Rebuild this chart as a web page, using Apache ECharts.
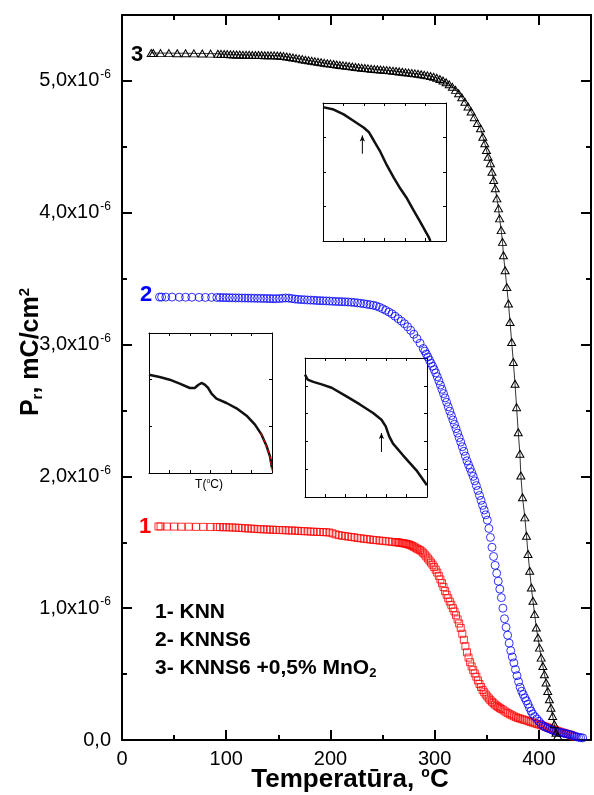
<!DOCTYPE html>
<html>
<head>
<meta charset="utf-8">
<script src="https://cdn.jsdelivr.net/npm/echarts@6/dist/echarts.min.js"></script>
<style>
  html, body { margin: 0; padding: 0; background: #fff; }
  #chart { width: 594px; height: 795px; }
</style>
</head>
<body>
<div id="chart"></div>
<script>
// tick labels of the main plot
var tempTicks = [0, 100, 200, 300, 400];
var prTicks = [0, 1, 2, 3, 4, 5];   // units of 1e-6 mC/cm2

// 1 - KNN  [T (C), Pr (x1e-6)]
var knnData = [
  [35, 1.620], [37, 1.620], [43, 1.619], [50, 1.619], [57, 1.618], [64, 1.618], [71, 1.617], [78, 1.617], [85, 1.616], [91, 1.616],
  [94, 1.615], [97, 1.614], [100, 1.614], [103, 1.613], [106, 1.612], [109, 1.611], [112, 1.610], [115, 1.608], [118, 1.606],
  [121, 1.605], [124, 1.604], [127, 1.602], [130, 1.600], [133, 1.599], [136, 1.598], [139, 1.597], [142, 1.596], [145, 1.595],
  [148, 1.594], [151, 1.593], [154, 1.592], [157, 1.591], [160, 1.590], [163, 1.589], [166, 1.588], [169, 1.587], [172, 1.585],
  [175, 1.584], [178, 1.583], [181, 1.581], [184, 1.580], [187, 1.579], [190, 1.578], [193, 1.577], [196, 1.576], [199, 1.574],
  [202, 1.568], [205, 1.560], [208, 1.554], [211, 1.550], [214, 1.547], [217, 1.543], [220, 1.540], [223, 1.537], [226, 1.533],
  [229, 1.530], [232, 1.527], [235, 1.524], [238, 1.521], [241, 1.518], [244, 1.516], [247, 1.513], [250, 1.511], [253, 1.508],
  [256, 1.506], [259, 1.503], [262, 1.501], [263.5, 1.500], [265, 1.499], [266.5, 1.497], [268, 1.495], [269.5, 1.493],
  [271, 1.491], [272.5, 1.489], [274, 1.486], [275.5, 1.482], [277, 1.478], [278.5, 1.472], [280, 1.466], [281.5, 1.459],
  [283, 1.452], [284.5, 1.446], [286, 1.440], [287.5, 1.431], [289, 1.420], [290.5, 1.407], [292, 1.392], [293.5, 1.377],
  [295, 1.362], [296.5, 1.346], [298, 1.330], [299.5, 1.312], [301, 1.292], [302.5, 1.270], [304, 1.245], [305.5, 1.218],
  [307, 1.190], [308.5, 1.160], [310, 1.130], [311.5, 1.102], [313, 1.075], [314.5, 1.050], [316, 1.025], [317.5, 1.000],
  [319, 0.975], [320.5, 0.946], [322, 0.915], [323.5, 0.884], [325, 0.850], [326.5, 0.806], [328, 0.760], [329.5, 0.712],
  [331, 0.665], [332.5, 0.625], [334, 0.590], [335.5, 0.558], [337, 0.530], [338.5, 0.505], [340, 0.480], [341.5, 0.452],
  [343, 0.425], [344.5, 0.402], [346, 0.380], [347.5, 0.362], [349, 0.345], [350.5, 0.330], [352, 0.315], [353.5, 0.302],
  [355, 0.290], [356.5, 0.279], [358, 0.268], [359.5, 0.259], [361, 0.250], [362.5, 0.242], [364, 0.235], [366, 0.225],
  [368, 0.215], [370, 0.205], [372, 0.196], [374, 0.188], [376, 0.180], [378, 0.173], [380, 0.167], [382, 0.162], [384, 0.157],
  [386, 0.153], [388, 0.148], [390, 0.143], [392, 0.137], [394, 0.132], [396, 0.127], [398, 0.122], [400, 0.117], [402, 0.112],
  [404, 0.107], [406, 0.102], [408, 0.097], [410, 0.091], [412, 0.085], [414, 0.080], [416, 0.074], [418, 0.068], [420, 0.063],
  [422, 0.058], [424, 0.054], [426, 0.049], [428, 0.045], [430, 0.040], [432, 0.033], [434, 0.026]
];

// 2 - KNNS6
var knns6Data = [
  [36, 3.360], [38, 3.360], [42, 3.360], [48, 3.360], [55, 3.359], [61, 3.359], [67, 3.359], [74, 3.358], [80, 3.358], [86, 3.358], [91, 3.357],
  [94, 3.357], [97, 3.356], [100, 3.356], [103, 3.355], [106, 3.355], [109, 3.354], [112, 3.354], [115, 3.353], [118, 3.353],
  [121, 3.352], [124, 3.352], [127, 3.351], [130, 3.351], [133, 3.350], [136, 3.350], [139, 3.349], [142, 3.349], [145, 3.348],
  [148, 3.348], [151, 3.349], [154, 3.351], [157, 3.353], [160, 3.352], [163, 3.349], [166, 3.345], [169, 3.343], [172, 3.341],
  [175, 3.340], [178, 3.338], [181, 3.337], [184, 3.336], [187, 3.334], [190, 3.333], [193, 3.332], [196, 3.331], [199, 3.330],
  [202, 3.328], [205, 3.327], [208, 3.326], [211, 3.325], [214, 3.324], [217, 3.323], [220, 3.321], [223, 3.319], [226, 3.316],
  [229, 3.313], [232, 3.310], [235, 3.306], [238, 3.302], [241, 3.298], [244, 3.292], [247, 3.283], [250, 3.272], [253, 3.260],
  [256, 3.247], [259, 3.233], [262, 3.215], [265, 3.196], [268, 3.178], [271, 3.158], [274, 3.135], [277, 3.108], [280, 3.078],
  [283, 3.045], [286, 3.010], [289, 2.970], [290.5, 2.950], [292, 2.928], [293.5, 2.905], [295, 2.882], [296.5, 2.858],
  [298, 2.835], [299.5, 2.810], [301, 2.785], [302.5, 2.756], [304, 2.725], [305.5, 2.693], [307, 2.660], [308.5, 2.628],
  [310, 2.595], [311.5, 2.562], [313, 2.528], [314.5, 2.495], [316, 2.462], [317.5, 2.428], [319, 2.395], [320.5, 2.362],
  [322, 2.328], [323.5, 2.294], [325, 2.260], [326.5, 2.225], [328, 2.190], [329.5, 2.154], [331, 2.118], [332.5, 2.088],
  [334, 2.060], [335.5, 2.030], [337, 2.000], [338.5, 1.966], [340, 1.930], [341.5, 1.893], [343, 1.855], [344.5, 1.818],
  [346, 1.780], [347.5, 1.745], [349, 1.708], [350.5, 1.668], [352, 1.605], [353.5, 1.537], [355, 1.462], [356.5, 1.392],
  [358, 1.325], [359.5, 1.265], [361, 1.205], [362.5, 1.145], [364, 1.080], [365.5, 1.000], [367, 0.920], [368.5, 0.855],
  [370, 0.795], [371.5, 0.735], [373, 0.678], [374.5, 0.630], [376, 0.585], [377.5, 0.535], [379, 0.488], [380.5, 0.442],
  [382, 0.400], [383.5, 0.370], [385, 0.345], [386.5, 0.320], [388, 0.298], [389.5, 0.272], [391, 0.245], [392.5, 0.220],
  [394, 0.198], [396, 0.178], [398, 0.160], [400, 0.142], [402, 0.122], [404, 0.108], [406, 0.098], [408, 0.091], [410, 0.085],
  [412, 0.078], [414, 0.071], [416, 0.065], [418, 0.062], [420, 0.058], [422, 0.055], [424, 0.052], [426, 0.048], [428, 0.044],
  [430, 0.040], [432, 0.035], [434, 0.030], [436, 0.025], [438, 0.021], [440, 0.018], [442, 0.016]
];

// 3 - KNNS6 + 0,5% MnO2
var mnoData = [
  [28, 5.212], [30, 5.212], [37, 5.211], [45, 5.211], [53, 5.210], [61, 5.210], [69, 5.209], [77, 5.208], [85, 5.207], [92, 5.206],
  [95, 5.205], [98, 5.204], [101, 5.203], [104, 5.202], [107, 5.201], [110, 5.200], [113, 5.200], [116, 5.199], [119, 5.198],
  [122, 5.198], [125, 5.197], [128, 5.197], [131, 5.196], [134, 5.196], [137, 5.195], [140, 5.195], [143, 5.194], [146, 5.194],
  [149, 5.193], [152, 5.191], [155, 5.188], [158, 5.185], [161, 5.181], [164, 5.177], [167, 5.173], [170, 5.169], [173, 5.165],
  [176, 5.161], [179, 5.157], [182, 5.153], [185, 5.149], [188, 5.145], [191, 5.141], [194, 5.137], [197, 5.134], [200, 5.131],
  [203, 5.128], [206, 5.125], [209, 5.121], [212, 5.118], [215, 5.115], [218, 5.112], [221, 5.109], [224, 5.106], [227, 5.103],
  [230, 5.100], [233, 5.098], [236, 5.095], [239, 5.092], [242, 5.090], [245, 5.088], [248, 5.086], [251, 5.084], [254, 5.082],
  [257, 5.080], [260, 5.077], [263, 5.075], [266, 5.072], [269, 5.069], [272, 5.066], [275, 5.063], [278, 5.060], [281, 5.057],
  [284, 5.054], [287, 5.050], [290, 5.046], [293, 5.042], [296, 5.037], [299, 5.031], [302, 5.024], [305, 5.015], [308, 5.003],
  [311, 4.990], [314, 4.974], [317, 4.955], [320, 4.932], [323, 4.906], [326, 4.876], [329, 4.842], [332, 4.806], [335, 4.768],
  [338, 4.725], [341, 4.680], [344.0, 4.641], [346.2, 4.577], [348.1, 4.527], [349.7, 4.476], [351.3, 4.425], [353.5, 4.375],
  [355.0, 4.311], [356.6, 4.248], [358.2, 4.185], [359.7, 4.109], [361.3, 4.033], [362.3, 3.957], [363.8, 3.868], [365.1, 3.779],
  [366.0, 3.678], [367.6, 3.564], [369.2, 3.437], [370.8, 3.311], [372.3, 3.171], [373.9, 3.019], [375.5, 2.867], [377.1, 2.703],
  [378.6, 2.525], [380.2, 2.335], [381.8, 2.171], [382.7, 2.006], [384.3, 1.841], [386.5, 1.689], [388.1, 1.550], [389.6, 1.411],
  [391.2, 1.284], [392.8, 1.157], [394.3, 1.056], [395.9, 0.955], [397.5, 0.853], [399.1, 0.777], [400.6, 0.701], [402.2, 0.625],
  [403.8, 0.562], [405.3, 0.499], [406.9, 0.436], [408.5, 0.372], [410.1, 0.309], [411.6, 0.245], [413.2, 0.182], [414.8, 0.119],
  [416.4, 0.055], [418.0, 0.030]
];

// insets (arbitrary units, no labels in the source)
var insetMno = [
  [0, 3.88], [0.52, 3.81], [1.01, 3.67], [1.50, 3.48], [1.98, 3.29], [2.23, 3.16], [2.47, 2.92], [2.80, 2.58],
  [3.12, 2.19], [3.45, 1.84], [3.77, 1.52], [4.10, 1.23], [4.42, 0.89], [4.75, 0.55], [5.15, 0.12], [5.24, 0]
];
var insetMnoArrow = [[1.92, 2.53], [1.92, 3.06]];

var insetKnn = [
  [0, 2.107], [0.52, 2.057], [1.01, 2.0], [1.50, 1.914], [1.99, 1.821], [2.23, 1.821], [2.40, 1.886], [2.56, 1.929],
  [2.72, 1.893], [2.89, 1.821], [3.05, 1.70], [3.29, 1.593], [3.78, 1.50], [4.27, 1.386], [4.76, 1.229], [5.17, 1.036],
  [5.49, 0.821], [5.74, 0.571], [5.90, 0.357], [6.0, 0.107]
];
var insetKnnFit = [[5.45, 0.86], [5.74, 0.571], [5.90, 0.357], [6.0, 0.05]];

var insetKnns6 = [
  [0, 4.40], [0.13, 4.22], [0.41, 4.14], [0.82, 4.05], [1.31, 3.93], [2.04, 3.62], [2.70, 3.33], [3.35, 3.02],
  [3.76, 2.78], [3.97, 2.54], [4.14, 2.18], [4.33, 1.92], [4.82, 1.50], [5.48, 0.96], [6.0, 0.42]
];
var insetKnns6Arrow = [[3.76, 1.62], [3.76, 2.30]];

var FONT = '"Liberation Sans", Arial, sans-serif';

var chart = echarts.init(document.getElementById('chart'));

function axisBase(gridIndex, position, min, max, interval, tickLen, width, showLine) {
  return {
    type: 'value', gridIndex: gridIndex, position: position,
    min: min, max: max, interval: interval,
    axisLine: { show: showLine, onZero: false, lineStyle: { color: '#000', width: width } },
    axisTick: { show: true, inside: true, length: tickLen, lineStyle: { color: '#000', width: width } },
    axisLabel: { show: false },
    splitLine: { show: false }
  };
}

var xAxes = [], yAxes = [];

// main plot: long ticks every 100 / 1e-6, short ticks every 50 / 0.5e-6
var xMain = axisBase(0, 'bottom', 0, 450, 100, 10, 2, true);
xMain.axisLabel = {
  show: true, margin: 9, color: '#000', fontSize: 20, fontFamily: FONT,
  formatter: function (v) { return tempTicks.indexOf(v) >= 0 ? String(v) : ''; }
};
xAxes.push(xMain);
xAxes.push(axisBase(0, 'bottom', 0, 450, 50, 5, 2, false));
xAxes.push(axisBase(0, 'top', 0, 450, 100, 10, 2, true));
xAxes.push(axisBase(0, 'top', 0, 450, 50, 5, 2, false));

var yMain = axisBase(0, 'left', 0, 5.5, 1, 10, 2, true);
yMain.axisLabel = {
  show: true, margin: 11, color: '#000', fontSize: 20, fontFamily: FONT,
  formatter: function (v) {
    if (prTicks.indexOf(v) < 0) return '';
    if (v === 0) return '{a|0,0}';
    return '{a|' + v.toFixed(1).replace('.', ',') + 'x10}{s|-6}';
  },
  rich: {
    a: { fontSize: 20, fontFamily: FONT, color: '#000', lineHeight: 24 },
    s: { fontSize: 12, fontFamily: FONT, color: '#000', verticalAlign: 'top', padding: [0, 0, 0, 1] }
  }
};
yAxes.push(yMain);
yAxes.push(axisBase(0, 'left', 0, 5.5, 0.5, 5, 2, false));
yAxes.push(axisBase(0, 'right', 0, 5.5, 1, 10, 2, true));
yAxes.push(axisBase(0, 'right', 0, 5.5, 0.5, 5, 2, false));

// insets: grid 1 (MnO2), 2 (KNN), 3 (KNNS6)
var insetY = { 1: 4, 2: 3, 3: 5 };
[1, 2, 3].forEach(function (g) {
  xAxes.push(axisBase(g, 'bottom', 0, 6, 1, 3, 1, true));
  xAxes.push(axisBase(g, 'top', 0, 6, 1, 3, 1, true));
  yAxes.push(axisBase(g, 'left', 0, insetY[g], 1, 3, 1, true));
  yAxes.push(axisBase(g, 'right', 0, insetY[g], 1, 3, 1, true));
});

function insetLine(data, xi, yi, color, width, dashed) {
  return {
    type: 'line', data: data, xAxisIndex: xi, yAxisIndex: yi,
    symbol: 'none', silent: true, z: 5,
    lineStyle: { color: color, width: width, type: dashed ? 'dashed' : 'solid' }
  };
}

function arrow(data, xi, yi) {
  return {
    type: 'line', xAxisIndex: xi, yAxisIndex: yi, silent: true, z: 5,
    data: [{ value: data[0], symbol: 'none' }, { value: data[1], symbol: 'arrow', symbolSize: [4, 6] }],
    itemStyle: { color: '#000' },
    lineStyle: { color: '#000', width: 1 }
  };
}

var option = {
  animation: false,
  backgroundColor: '#fff',
  grid: [
    { left: 122, top: 15, width: 477, height: 725 },
    { left: 323, top: 103, width: 123, height: 138, show: true, backgroundColor: '#fff', borderWidth: 0 },
    { left: 149, top: 333, width: 123, height: 140, show: true, backgroundColor: '#fff', borderWidth: 0 },
    { left: 305, top: 358, width: 122, height: 139, show: true, backgroundColor: '#fff', borderWidth: 0 }
  ],
  xAxis: xAxes,
  yAxis: yAxes,
  series: [
    {
      name: '1- KNN', type: 'scatter', data: knnData, xAxisIndex: 0, yAxisIndex: 0,
      symbol: 'rect', symbolSize: 7, silent: true,
      itemStyle: { color: 'transparent', borderColor: '#ff0000', borderWidth: 1 }
    },
    {
      name: '2- KNNS6', type: 'scatter', data: knns6Data, xAxisIndex: 0, yAxisIndex: 0,
      symbol: 'circle', symbolSize: 8, silent: true,
      itemStyle: { color: 'transparent', borderColor: '#0000ff', borderWidth: 1 }
    },
    {
      name: '3- KNNS6 +0,5% MnO2', type: 'line', data: mnoData, xAxisIndex: 0, yAxisIndex: 0,
      symbol: 'triangle', symbolSize: [8, 7], showSymbol: true, showAllSymbol: true, silent: true,
      itemStyle: { color: 'transparent', borderColor: '#000', borderWidth: 1 },
      lineStyle: { color: '#000', width: 0.8 }
    },
    insetLine(insetMno, 4, 4, '#111', 2.5),
    arrow(insetMnoArrow, 4, 4),
    insetLine(insetKnn, 6, 6, '#111', 2.5),
    insetLine(insetKnnFit, 6, 6, '#ff0000', 1, true),
    insetLine(insetKnns6, 8, 8, '#111', 2.5),
    arrow(insetKnns6Arrow, 8, 8)
  ],
  graphic: [
    { type: 'text', x: 137, y: 55, style: { text: '3', fill: '#000', font: 'bold 22px ' + FONT, textAlign: 'center', textVerticalAlign: 'middle' } },
    { type: 'text', x: 146, y: 295, style: { text: '2', fill: '#0000ff', font: 'bold 22px ' + FONT, textAlign: 'center', textVerticalAlign: 'middle' } },
    { type: 'text', x: 145, y: 527, style: { text: '1', fill: '#ff0000', font: 'bold 22px ' + FONT, textAlign: 'center', textVerticalAlign: 'middle' } },
    { type: 'text', x: 155, y: 612, style: { text: '1- KNN', fill: '#000', font: 'bold 21px ' + FONT, textVerticalAlign: 'middle' } },
    { type: 'text', x: 155, y: 640, style: { text: '2- KNNS6', fill: '#000', font: 'bold 21px ' + FONT, textVerticalAlign: 'middle' } },
    {
      type: 'text', x: 155, y: 668,
      style: {
        text: '{a|3- KNNS6 +0,5% MnO}{b|2}', fill: '#000', textVerticalAlign: 'middle',
        rich: {
          a: { fontSize: 21, fontWeight: 'bold', fontFamily: FONT, lineHeight: 24 },
          b: { fontSize: 13, fontWeight: 'bold', fontFamily: FONT, verticalAlign: 'bottom', padding: [10, 0, 0, 0] }
        }
      }
    },
    {
      type: 'text', x: 209, y: 485,
      style: {
        text: '{a|T(}{b|o}{a|C)}', fill: '#000', textAlign: 'center', textVerticalAlign: 'middle',
        rich: {
          a: { fontSize: 12, fontFamily: FONT, lineHeight: 14 },
          b: { fontSize: 7, fontFamily: FONT, verticalAlign: 'top' }
        }
      }
    },
    {
      type: 'text', x: 350, y: 780,
      style: {
        text: '{a|Temperatūra, }{b|o}{a|C}', fill: '#000', textAlign: 'center', textVerticalAlign: 'middle',
        rich: {
          a: { fontSize: 26, fontWeight: 'bold', fontFamily: FONT, lineHeight: 28 },
          b: { fontSize: 14, fontWeight: 'bold', fontFamily: FONT, verticalAlign: 'top' }
        }
      }
    },
    {
      type: 'text', x: 31, y: 352, rotation: Math.PI / 2,
      style: {
        text: '{a|P}{c|r}{a|, mC/cm}{b|2}', fill: '#000', textAlign: 'center', textVerticalAlign: 'middle',
        rich: {
          a: { fontSize: 25, fontWeight: 'bold', fontFamily: FONT, lineHeight: 28 },
          b: { fontSize: 15, fontWeight: 'bold', fontFamily: FONT, verticalAlign: 'top' },
          c: { fontSize: 15, fontWeight: 'bold', fontFamily: FONT, verticalAlign: 'bottom', padding: [8, 0, 0, 0] }
        }
      }
    }
  ]
};

chart.setOption(option);
</script>
</body>
</html>
